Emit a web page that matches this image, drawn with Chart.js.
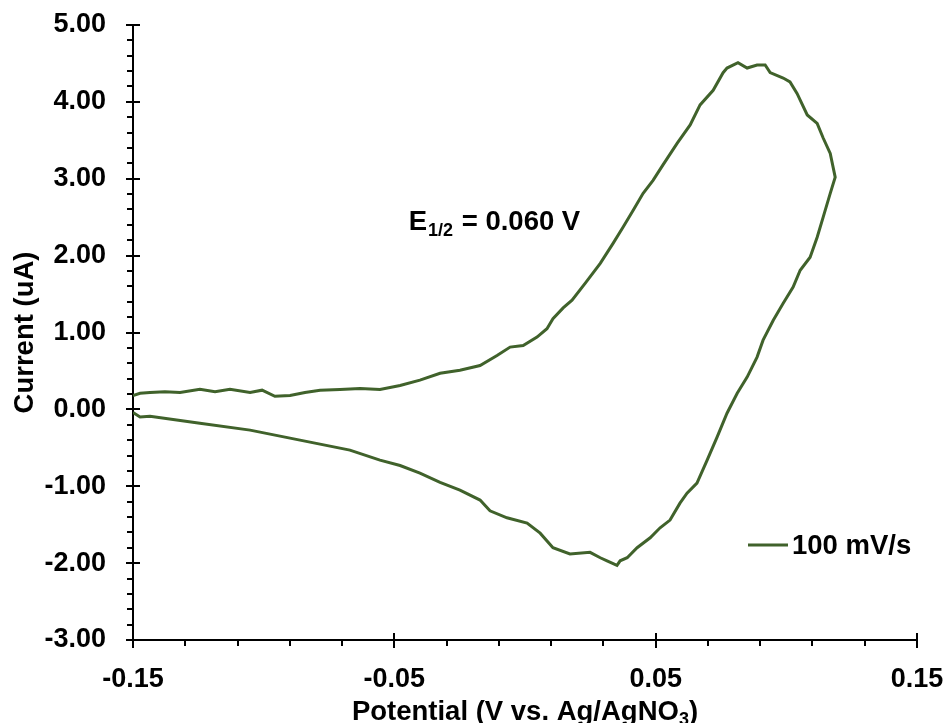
<!DOCTYPE html>
<html>
<head>
<meta charset="utf-8">
<script src="https://cdn.jsdelivr.net/npm/chart.js@4.4.1/dist/chart.umd.min.js"></script>
<style>
html,body{margin:0;padding:0;background:#fff;}
#wrap{width:946px;height:723px;}
</style>
</head>
<body>
<div id="wrap"><canvas id="cv"></canvas></div>
<script>
// forward scan (-0.15 V -> 0.12 V)
var forwardX = [-0.150,-0.1473,-0.1435,-0.1378,-0.1320,-0.1244,-0.1186,-0.1129,-0.1052,-0.1006,-0.0957,-0.0899,-0.0842,-0.0784,-0.0708,-0.0631,-0.0555,-0.0478,-0.0402,-0.0325,-0.0249,-0.0172,-0.0107,-0.0057,-0.0007,0.0046,0.0084,0.0107,0.0146,0.0180,0.0230,0.0288,0.0337,0.0375,0.0414,0.0452,0.0490,0.0528,0.0582,0.0632,0.0670,0.0720,0.0758,0.0773,0.0815,0.0850,0.0888,0.0919,0.0938,0.0988,0.1014,0.1041,0.1080,0.1118,0.1141,0.1168,0.1187];
var forwardY = [0.18,0.21,0.22,0.23,0.22,0.26,0.23,0.26,0.22,0.25,0.17,0.18,0.22,0.25,0.26,0.27,0.26,0.31,0.38,0.47,0.51,0.57,0.70,0.81,0.83,0.94,1.05,1.18,1.32,1.42,1.64,1.90,2.16,2.37,2.59,2.81,2.98,3.18,3.46,3.70,3.96,4.15,4.38,4.44,4.51,4.44,4.48,4.48,4.38,4.31,4.26,4.11,3.83,3.72,3.53,3.33,3.02];
// reverse scan (0.12 V -> -0.15 V)
var reverseX = [0.1168,0.1141,0.1118,0.1091,0.1053,0.1026,0.0988,0.0950,0.0911,0.0888,0.0850,0.0812,0.0773,0.0735,0.0697,0.0658,0.0620,0.0593,0.0555,0.0517,0.0479,0.0429,0.0391,0.0364,0.0352,0.0314,0.0288,0.0249,0.0172,0.0107,0.0058,0.0008,-0.0069,-0.0134,-0.0172,-0.0249,-0.0325,-0.0402,-0.0478,-0.0555,-0.0670,-0.0861,-0.1052,-0.1244,-0.1435,-0.1473,-0.150];
var reverseY = [2.81,2.50,2.24,1.98,1.81,1.59,1.38,1.16,0.90,0.68,0.42,0.21,-0.05,-0.36,-0.66,-0.96,-1.09,-1.22,-1.44,-1.54,-1.67,-1.80,-1.93,-1.97,-2.03,-1.97,-1.93,-1.86,-1.88,-1.80,-1.61,-1.48,-1.41,-1.32,-1.18,-1.05,-0.95,-0.83,-0.73,-0.66,-0.53,-0.40,-0.27,-0.18,-0.09,-0.10,-0.04];

var seriesLabel = "100 mV/s";
var xTicks = [-0.15, -0.05, 0.05, 0.15];
var yTicks = [-3, -2, -1, 0, 1, 2, 3, 4, 5];
var xTitle = ["Potential (V vs. Ag/AgNO", "3", ")"];
var yTitle = "Current (uA)";
var note = ["E", "1/2", " = 0.060 V"];
var noteAt = {x: -0.0445, y: 2.33};

var green = '#40622B';
var fam = "'Liberation Sans', Arial, sans-serif";
Chart.defaults.font.family = fam;
Chart.defaults.color = '#000';

var pts = [];
for (var i = 0; i < forwardX.length; i++) pts.push({x: forwardX[i], y: forwardY[i]});
for (var j = 0; j < reverseX.length; j++) pts.push({x: reverseX[j], y: reverseY[j]});

var decor = {
    id: 'decor',
    afterDraw: function(chart) {
        var ctx = chart.ctx, xs = chart.scales.x, ys = chart.scales.y, a = chart.chartArea;
        ctx.save();
        ctx.strokeStyle = '#000';
        ctx.lineWidth = 2;
        ctx.beginPath();
        // y tick marks, minor every 0.2
        for (var i = 0; i <= 40; i++) {
            var py = Math.round(ys.getPixelForValue(-3 + i * 0.2));
            if (i % 5 == 0) { ctx.moveTo(a.left - 7, py); ctx.lineTo(a.left + 7, py); }
            else { ctx.moveTo(a.left - 6, py); ctx.lineTo(a.left, py); }
        }
        // x tick marks, minor every 0.02
        for (var k = 0; k <= 15; k++) {
            var px = Math.round(xs.getPixelForValue(-0.15 + k * 0.02));
            if (k % 5 == 0) { ctx.moveTo(px, a.bottom - 7); ctx.lineTo(px, a.bottom + 8); }
            else { ctx.moveTo(px, a.bottom); ctx.lineTo(px, a.bottom + 6); }
        }
        ctx.stroke();

        ctx.fillStyle = '#000';
        ctx.textBaseline = 'alphabetic';
        // x axis title with subscript
        var big = 'bold 27.5px ' + fam, small = 'bold 18px ' + fam;
        ctx.font = big;
        var w1 = ctx.measureText(xTitle[0]).width, w3 = ctx.measureText(xTitle[2]).width;
        ctx.font = small;
        var w2 = ctx.measureText(xTitle[1]).width;
        var tx = (a.left + a.right) / 2 - (w1 + w2 + w3) / 2, ty = 720;
        ctx.font = big; ctx.fillText(xTitle[0], tx, ty);
        ctx.font = small; ctx.fillText(xTitle[1], tx + w1, ty + 5);
        ctx.font = big; ctx.fillText(xTitle[2], tx + w1 + w2, ty);

        // E1/2 note
        var nx = xs.getPixelForValue(noteAt.x), ny = ys.getPixelForValue(noteAt.y);
        ctx.font = big; ctx.fillText(note[0], nx, ny);
        var e = ctx.measureText(note[0]).width;
        ctx.font = small; ctx.fillText(note[1], nx + e + 1, ny + 6);
        var s = ctx.measureText(note[1]).width;
        ctx.font = big; ctx.fillText(note[2], nx + e + s + 2, ny);

        // legend
        var lx = a.right - 169, ly = 545;
        ctx.strokeStyle = green; ctx.lineWidth = 3;
        ctx.beginPath(); ctx.moveTo(lx, ly); ctx.lineTo(lx + 40, ly); ctx.stroke();
        ctx.textBaseline = 'middle';
        ctx.font = big; ctx.fillText(seriesLabel, lx + 44, ly + 1);
        ctx.restore();
    }
};

new Chart("cv", {
    type: 'scatter',
    data: {
        datasets: [{
            label: seriesLabel,
            data: pts,
            showLine: true,
            borderColor: green,
            borderWidth: 3,
            pointRadius: 0,
            tension: 0,
            fill: false
        }]
    },
    options: {
        responsive: true,
        maintainAspectRatio: false,
        animation: false,
        layout: { padding: { left: 6, right: 29, top: 25, bottom: 0 } },
        plugins: {
            legend: { display: false },
            tooltip: { enabled: false }
        },
        scales: {
            x: {
                type: 'linear',
                min: -0.15,
                max: 0.15,
                grid: { display: false, drawTicks: false },
                border: { display: true, color: '#000', width: 2 },
                afterBuildTicks: function(axis) { axis.ticks = xTicks.map(function(v) { return {value: v}; }); },
                afterFit: function(axis) { axis.height = 83; axis.paddingLeft = 0; axis.paddingRight = 0; },
                ticks: {
                    padding: 23,
                    maxRotation: 0,
                    font: { size: 27, weight: 'bold' },
                    callback: function(v) { return v.toFixed(2); }
                }
            },
            y: {
                type: 'linear',
                min: -3,
                max: 5,
                grid: { display: false, drawTicks: false },
                border: { display: true, color: '#000', width: 2 },
                afterBuildTicks: function(axis) { axis.ticks = yTicks.map(function(v) { return {value: v}; }); },
                afterFit: function(axis) { axis.width = 127; axis.paddingTop = 0; axis.paddingBottom = 0; },
                title: {
                    display: true,
                    text: yTitle,
                    font: { size: 27.5, weight: 'bold' },
                    padding: { top: 3, bottom: 0 }
                },
                ticks: {
                    padding: 27,
                    font: { size: 27, weight: 'bold' },
                    callback: function(v) { return v.toFixed(2); }
                }
            }
        }
    },
    plugins: [decor]
});
</script>
</body>
</html>
